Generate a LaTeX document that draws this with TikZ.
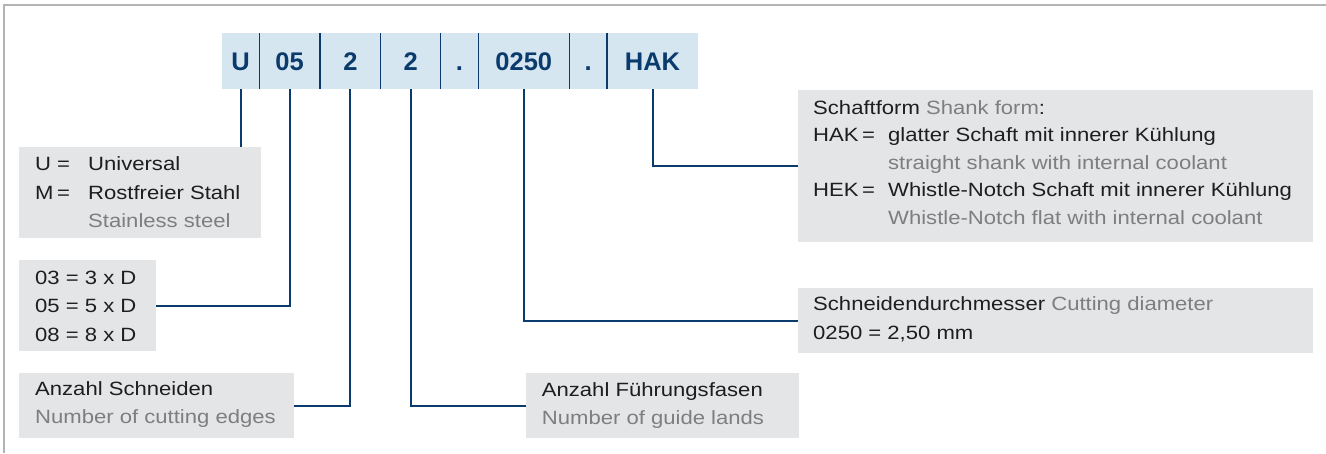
\documentclass[tikz,border=0pt]{standalone}
\usepackage{fontspec}
\setmainfont{Liberation Sans}
\newfontfamily\bodyfont[FakeStretch=1.15]{Liberation Sans}
\definecolor{navy}{HTML}{0B3A6C}
\definecolor{bandblue}{HTML}{D5E6F0}
\definecolor{boxgray}{HTML}{E4E5E7}
\definecolor{txtgray}{HTML}{7E7E7E}
\definecolor{txtblack}{HTML}{1E1E1E}
\definecolor{framegray}{HTML}{B4B4B4}
\tikzset{
  cell/.style={fill=bandblue, minimum height=56pt, inner sep=0pt, outer sep=0pt,
    text height=19pt, text depth=0pt, text=navy, anchor=west,
    font=\bfseries\fontsize{25.5}{27}\selectfont},
  sepline/.style={draw=navy, line width=1.3pt},
  conn/.style={draw=navy, line width=2pt},
  gbox/.style={fill=boxgray, inner sep=0pt, outer sep=0pt, anchor=north west},
  txt/.style={inner sep=0pt, anchor=base west, text=txtblack,
    font=\bodyfont\fontsize{19.2}{22}\selectfont},
  txg/.style={txt, text=txtgray},
  framel/.style={draw=framegray, line width=1.2pt}
}
\begin{document}
\begin{tikzpicture}[x=1pt,y=-1pt]
\useasboundingbox (0,0) rectangle (1326,453);
\draw[framel] (4,453) -- (4,5) -- (1326,5);

% header cells
\node[cell, minimum width=37.3pt] (cU) at (222,61) {U};
\node[cell, minimum width=60.7pt] (c05) at (cU.east) {05};
\node[cell, minimum width=60.7pt] (c2a) at (c05.east) {2};
\node[cell, minimum width=60pt] (c2b) at (c2a.east) {2};
\node[cell, minimum width=37.6pt] (cd1) at (c2b.east) {.};
\node[cell, minimum width=91pt] (c0250) at (cd1.east) {0250};
\node[cell, minimum width=37.7pt] (cd2) at (c0250.east) {.};
\node[cell, minimum width=91pt] (cHAK) at (cd2.east) {HAK};
\foreach \c in {cU,c05,c2a,c2b,cd1,c0250,cd2}
  \draw[sepline] (\c.north east) -- (\c.south east);

% gray boxes
\node[gbox, minimum width=242pt, minimum height=91pt] (bU) at (19,147) {};
\node[gbox, minimum width=137pt, minimum height=91pt] (b05) at (19,260) {};
\node[gbox, minimum width=275pt, minimum height=65pt] (bSch) at (19,373) {};
\node[gbox, minimum width=273pt, minimum height=65pt] (bFue) at (526,373) {};
\node[gbox, minimum width=515pt, minimum height=65pt] (bDia) at (798,288) {};
\node[gbox, minimum width=515pt, minimum height=152pt] (bShk) at (798,90) {};

% texts
\node[txt] (tU1) at (35,170.7) {\makebox[22pt][l]{U}\makebox[31pt][l]{=}Universal};
\node[txt] (tU2) at (35,199.3) {\makebox[22pt][l]{M}\makebox[31pt][l]{=}Rostfreier Stahl};
\node[txg] (tU3) at (88,227.3) {Stainless steel};

\node[txt] (t051) at (35,284) {03 = 3 x D};
\node[txt] (t052) at (35,312.3) {05 = 5 x D};
\node[txt] (t053) at (35,341) {08 = 8 x D};

\node[txt] (tS1) at (35,395) {Anzahl Schneiden};
\node[txg] (tS2) at (35,423.3) {Number of cutting edges};

\node[txt] (tF1) at (541.7,396.7) {Anzahl Führungsfasen};
\node[txg] (tF2) at (541.7,424) {Number of guide lands};

\node[txt] (tD1) at (813,310.7) {Schneidendurchmesser \textcolor{txtgray}{Cutting diameter}};
\node[txt] (tD2) at (813,339) {0250 = 2,50 mm};

\node[txt] (tK1) at (813,114) {Schaftform \textcolor{txtgray}{Shank form}:};
\node[txt] (tK2) at (813,141.5) {\makebox[49pt][l]{HAK}\makebox[26pt][l]{=}glatter Schaft mit innerer Kühlung};
\node[txg] (tK3) at (888,169) {straight shank with internal coolant};
\node[txt] (tK4) at (813,196.5) {\makebox[49pt][l]{HEK}\makebox[26pt][l]{=}Whistle-Notch Schaft mit innerer Kühlung};
\node[txg] (tK5) at (888,224) {Whistle-Notch flat with internal coolant};

% connectors
\draw[conn] (cU.south) -- (cU.south |- bU.north);
\draw[conn] (c05.south) |- (b05.east);
\draw[conn] (c2a.south) |- (bSch.east);
\draw[conn] (c2b.south) |- (bFue.west);
\draw[conn] (c0250.south) |- (bDia.west);
\draw[conn] (cHAK.south) |- (bShk.west);
\end{tikzpicture}
\end{document}
